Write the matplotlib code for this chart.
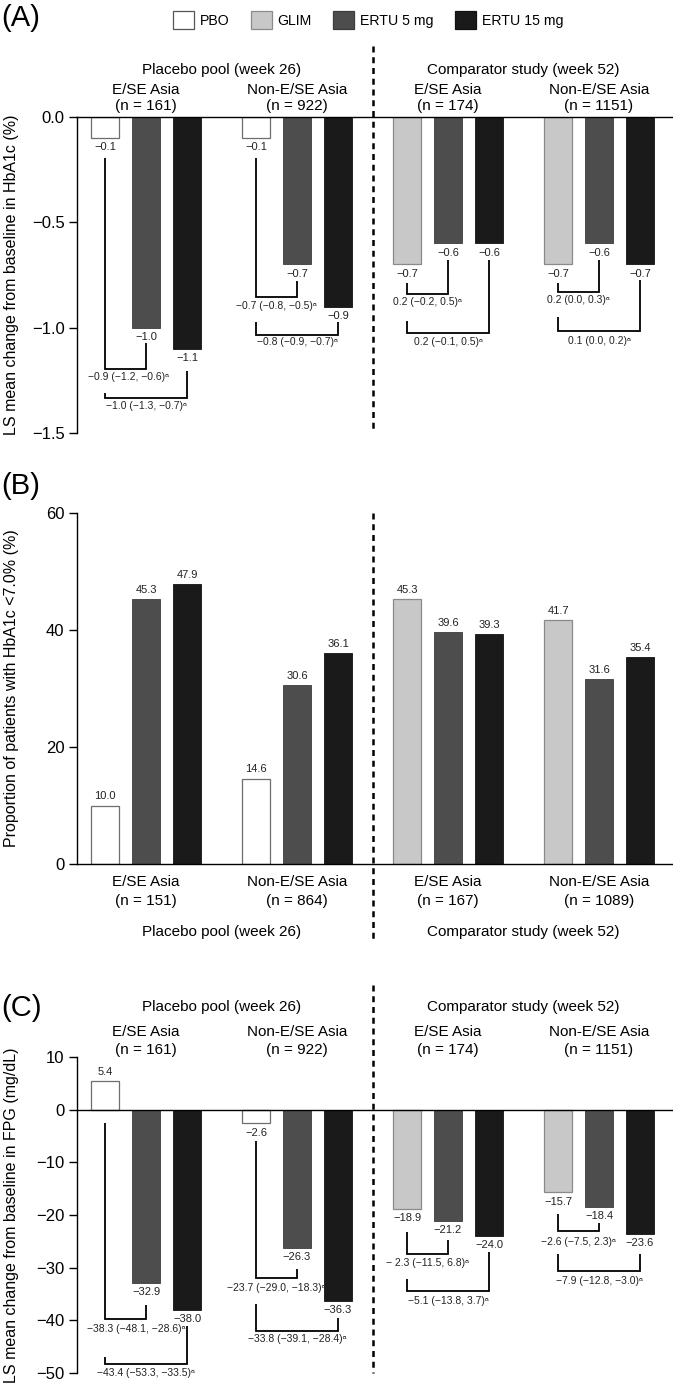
import numpy as np
import matplotlib
matplotlib.use("Agg")
import matplotlib.pyplot as plt
from matplotlib.patches import Patch
from matplotlib.transforms import blended_transform_factory

# ---- data -------------------------------------------------------------
groups = ["E/SE Asia", "Non-E/SE Asia", "E/SE Asia", "Non-E/SE Asia"]
n_hba1c = [161, 922, 174, 1151]
n_goal = [151, 864, 167, 1089]
n_fpg = [161, 922, 174, 1151]
studies = ["Placebo pool (week 26)", "Comparator study (week 52)"]
series = ["PBO", "GLIM", "ERTU 5 mg", "ERTU 15 mg"]

hba1c_ctrl = [-0.1, -0.1, -0.7, -0.7]
hba1c_e5 = [-1.0, -0.7, -0.6, -0.6]
hba1c_e15 = [-1.1, -0.9, -0.6, -0.7]
hba1c_d5 = ["−0.9 (−1.2, −0.6)", "−0.7 (−0.8, −0.5)", "0.2 (−0.2, 0.5)", "0.2 (0.0, 0.3)"]
hba1c_d15 = ["−1.0 (−1.3, −0.7)", "−0.8 (−0.9, −0.7)", "0.2 (−0.1, 0.5)", "0.1 (0.0, 0.2)"]

goal_ctrl = [10.0, 14.6, 45.3, 41.7]
goal_e5 = [45.3, 30.6, 39.6, 31.6]
goal_e15 = [47.9, 36.1, 39.3, 35.4]

fpg_ctrl = [5.4, -2.6, -18.9, -15.7]
fpg_e5 = [-32.9, -26.3, -21.2, -18.4]
fpg_e15 = [-38.0, -36.3, -24.0, -23.6]
fpg_d5 = ["−38.3 (−48.1, −28.6)", "−23.7 (−29.0, −18.3)", "− 2.3 (−11.5, 6.8)", "−2.6 (−7.5, 2.3)"]
fpg_d15 = ["−43.4 (−53.3, −33.5)", "−33.8 (−39.1, −28.4)", "−5.1 (−13.8, 3.7)", "−7.9 (−12.8, −3.0)"]

# bracket layout: (left top, right top, bar level, text level, text x nudge)
lay_a5 = [(-0.195, -1.073, -1.195, -1.233, 0.02), (-0.195, -0.777, -0.855, -0.897, 0),
          (-0.79, -0.68, -0.84, -0.88, 0), (-0.79, -0.68, -0.83, -0.87, 0)]
lay_a15 = [(-1.31, -1.206, -1.334, -1.37, 0), (-0.975, -0.975, -1.035, -1.07, 0),
           (-0.966, -0.68, -1.027, -1.068, 0), (-0.95, -0.775, -1.017, -1.063, 0)]
lay_c5 = [(-2.5, -37.0, -39.7, -41.6, 0.07), (-6.0, -30.3, -31.9, -33.8, 0),
          (-23.2, -24.7, -27.4, -29.2, 0), (-19.8, -21.5, -23.0, -25.1, 0)]
lay_c15 = [(-46.9, -41.0, -48.2, -50.0, 0), (-36.9, -39.6, -42.0, -43.6, 0),
           (-32.1, -27.0, -34.4, -36.3, 0), (-27.4, -27.4, -30.6, -32.5, 0)]

# ---- style -------------------------------------------------------------
plt.rcParams["font.family"] = ["Liberation Sans", "DejaVu Sans"]
plt.rcParams["axes.linewidth"] = 1.0
W, H = 673, 1383
COL = {"PBO": ("white", "#6e6e6e"), "GLIM": ("#c8c8c8", "#8a8a8a"),
       "ERTU 5 mg": ("#4d4d4d", "#3c3c3c"), "ERTU 15 mg": ("#1a1a1a", "#111111")}
x = np.arange(4)
off, bw = 0.2715, 0.185
ctrl_kind = ["PBO", "PBO", "GLIM", "GLIM"]


def fy(py):
    return 1 - py / H


def fx(px):
    return px / W


def fmt(v):
    return f"{v:.1f}".replace("-", "−")


fig = plt.figure(figsize=(W / 100, H / 100), dpi=100)


def make_ax(top, bottom, ylim, ticks, ticklabels, ylabel):
    ax = fig.add_axes([fx(77), fy(bottom), 1 - fx(77), fy(top) - fy(bottom)])
    ax.set_xlim(-0.457, 3.49)
    ax.set_ylim(*ylim)
    ax.set_xticks([])
    ax.set_yticks(ticks)
    ax.set_yticklabels(ticklabels, fontsize=12)
    ax.tick_params(axis="y", length=6, width=1.0, pad=3)
    for s in ("top", "right", "bottom"):
        ax.spines[s].set_visible(False)
    ax.set_ylabel(ylabel, fontsize=11.5)
    ax.yaxis.set_label_coords(-0.098, 0.5)
    ax.patch.set_alpha(0)
    return ax


def bars(ax, ctrl, e5, e15):
    for i in range(4):
        fc, ec = COL[ctrl_kind[i]]
        ax.bar(x[i] - off, ctrl[i], bw, color=fc, edgecolor=ec, lw=0.9)
    fc, ec = COL["ERTU 5 mg"]
    ax.bar(x, e5, bw, color=fc, edgecolor=ec, lw=0.6)
    fc, ec = COL["ERTU 15 mg"]
    ax.bar(x + off, e15, bw, color=fc, edgecolor=ec, lw=0.6)
    for xs, vals in ((x - off, ctrl), (x, e5), (x + off, e15)):
        for xi, v in zip(xs, vals):
            up = v > 0
            ax.annotate(fmt(v), (xi, v), xytext=(0, 3 if up else -3), textcoords="offset points",
                        ha="center", va="bottom" if up else "top", fontsize=8, color="#222222")


def brackets(ax, xr_off, texts, lay):
    for i in range(4):
        lt, rt, yb, ty, nx = lay[i]
        xl, xr = x[i] - off, x[i] + xr_off
        ax.plot([xl, xl, xr, xr], [lt, yb, yb, rt], color="black", lw=1.3, clip_on=False,
                solid_joinstyle="miter", solid_capstyle="butt")
        ax.text((xl + xr) / 2 + nx, ty, texts[i] + "ᵃ", ha="center", va="center", fontsize=7.5,
                color="#222222", clip_on=False)


def divider(ax, top_px, bottom_px):
    tr = blended_transform_factory(ax.transData, fig.transFigure)
    ax.plot([1.5, 1.5], [fy(top_px), fy(bottom_px)], transform=tr, color="black", lw=1.8,
            ls=(0, (2.4, 1.9)), clip_on=False)


def headers(ax, y_study, y_grp, y_n, ns):
    tr = blended_transform_factory(ax.transData, fig.transFigure)
    for k, st in enumerate(studies):
        ax.text(0.5 + 2 * k, fy(y_study), st, transform=tr, ha="center", va="center", fontsize=11)
    for i in range(4):
        ax.text(x[i], fy(y_grp), groups[i], transform=tr, ha="center", va="center", fontsize=11)
        ax.text(x[i], fy(y_n), f"(n = {ns[i]})", transform=tr, ha="center", va="center", fontsize=11)


# ---- panel A -----------------------------------------------------------
axA = make_ax(117, 433, (-1.5, 0), [0, -0.5, -1.0, -1.5], ["0.0", "−0.5", "−1.0", "−1.5"],
              "LS mean change from baseline in HbA1c (%)")
axA.spines["top"].set_visible(True)
bars(axA, hba1c_ctrl, hba1c_e5, hba1c_e15)
brackets(axA, 0, hba1c_d5, lay_a5)
brackets(axA, off, hba1c_d15, lay_a15)
divider(axA, 46, 433)
headers(axA, 70, 90, 106, n_hba1c)

# ---- panel B -----------------------------------------------------------
axB = make_ax(513, 864, (0, 60), [0, 20, 40, 60], ["0", "20", "40", "60"],
              "Proportion of patients with HbA1c <7.0% (%)")
axB.spines["bottom"].set_visible(True)
bars(axB, goal_ctrl, goal_e5, goal_e15)
divider(axB, 513, 940)
trB = blended_transform_factory(axB.transData, fig.transFigure)
for i in range(4):
    axB.text(x[i], fy(882), groups[i], transform=trB, ha="center", va="center", fontsize=11)
    axB.text(x[i], fy(901), f"(n = {n_goal[i]})", transform=trB, ha="center", va="center", fontsize=11)
for k, st in enumerate(studies):
    axB.text(0.5 + 2 * k, fy(932), st, transform=trB, ha="center", va="center", fontsize=11)

# ---- panel C -----------------------------------------------------------
axC = make_ax(1057, 1373, (-50, 10), [10, 0, -10, -20, -30, -40, -50],
              ["10", "0", "−10", "−20", "−30", "−40", "−50"],
              "LS mean change from baseline in FPG (mg/dL)")
axC.axhline(0, color="black", lw=1.0, xmax=1.0)
bars(axC, fpg_ctrl, fpg_e5, fpg_e15)
brackets(axC, 0, fpg_d5, lay_c5)
brackets(axC, off, fpg_d15, lay_c15)
divider(axC, 985, 1373)
headers(axC, 1007, 1032, 1050, n_fpg)

# ---- panel letters and legend -----------------------------------------
for lab, py in (("(A)", 18), ("(B)", 486), ("(C)", 1008)):
    fig.text(fx(1), fy(py), lab, ha="left", va="center", fontsize=21)

handles = [Patch(facecolor=COL[s][0], edgecolor=COL[s][1] if s != "PBO" else "#555555", lw=0.9)
           for s in series]
fig.legend(handles, series, loc="center", bbox_to_anchor=(fx(368), fy(20)), ncol=4, frameon=False,
           handlelength=1.5, handleheight=1.5, handletextpad=0.4, columnspacing=1.5, fontsize=10.2)

fig.savefig("out.png", dpi=100)
